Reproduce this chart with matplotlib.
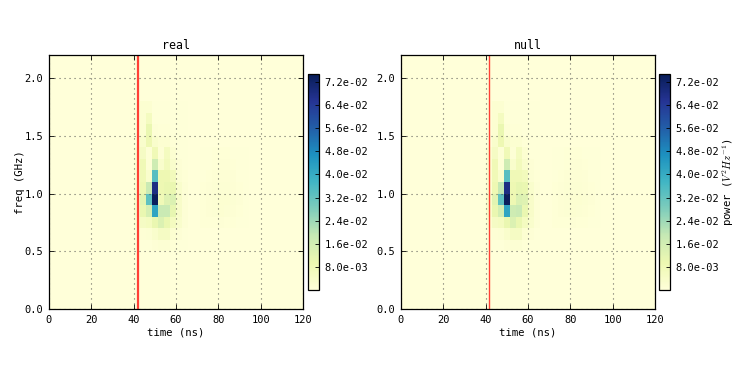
import numpy as np
import matplotlib
matplotlib.use('Agg')
import matplotlib.pyplot as plt

plt.rcParams['font.family'] = ['DejaVu Sans Mono']
plt.rcParams['mathtext.fontset'] = 'cm'

# grid of the spectrogram
time_edges = np.linspace(0, 120, 43)
freq_edges = np.linspace(0, 2.2, 23)
background = 0.25

# power in 1e-3, first row is 0.5-0.6 GHz, columns 14-22 (about 40-66 ns)
core_real = [
    [0.3, 0.5, 0.5, 1.0, 1.5, 1.5, 0.8, 0.5, 0.4],
    [0.5, 1.2, 1.5, 3.0, 5.0, 5.0, 2.0, 1.0, 0.5],
    [2.0, 5.0, 6.0, 10.0, 14.0, 10.0, 6.0, 3.0, 1.0],
    [3.0, 10.0, 15.0, 42.0, 18.0, 18.0, 11.0, 4.0, 1.0],
    [3.0, 12.0, 33.0, 74.0, 8.0, 13.0, 14.0, 4.0, 1.0],
    [2.0, 9.0, 18.0, 68.0, 9.0, 10.0, 10.0, 3.0, 1.0],
    [2.0, 8.0, 3.0, 34.0, 9.0, 9.0, 7.0, 1.5, 0.6],
    [2.0, 8.0, 1.0, 17.0, 3.0, 7.0, 3.0, 1.0, 0.5],
    [2.0, 5.0, 1.0, 8.0, 1.0, 6.0, 2.0, 0.5, 0.3],
    [0.5, 3.0, 9.0, 3.0, 2.0, 2.0, 0.8, 0.3, 0.3],
    [0.3, 2.0, 10.0, 1.0, 0.8, 0.6, 0.3, 0.3, 0.3],
    [0.3, 2.0, 6.0, 0.5, 0.3, 0.3, 0.3, 0.3, 0.3],
    [0.3, 2.0, 2.0, 0.5, 0.3, 0.3, 0.3, 0.3, 0.3],
]
core_null = [
    [0.3, 0.5, 0.5, 1.0, 1.5, 1.5, 0.8, 0.5, 0.4],
    [0.5, 1.2, 1.5, 3.0, 5.0, 5.0, 2.0, 1.0, 0.5],
    [2.0, 5.0, 6.0, 10.0, 14.0, 10.0, 6.0, 3.0, 1.0],
    [3.0, 10.0, 16.0, 42.0, 17.0, 18.0, 10.0, 4.0, 1.0],
    [3.0, 12.0, 33.0, 74.0, 9.0, 14.0, 13.0, 4.0, 1.0],
    [2.0, 9.0, 19.0, 68.0, 9.0, 11.0, 10.0, 3.0, 1.0],
    [2.0, 8.0, 3.0, 34.0, 8.0, 8.0, 7.0, 1.5, 0.6],
    [2.0, 8.0, 1.0, 17.0, 3.0, 7.0, 3.0, 1.0, 0.5],
    [2.0, 5.0, 1.0, 8.0, 1.0, 6.0, 2.0, 0.5, 0.3],
    [0.5, 3.0, 9.0, 3.0, 2.0, 2.0, 0.8, 0.3, 0.3],
    [0.3, 2.0, 10.0, 1.0, 0.8, 0.6, 0.3, 0.3, 0.3],
    [0.3, 2.0, 6.0, 0.5, 0.3, 0.3, 0.3, 0.3, 0.3],
    [0.3, 2.0, 2.0, 0.5, 0.3, 0.3, 0.3, 0.3, 0.3],
]

# faint tail, first row is 0.7-0.8 GHz, columns 25-32 (about 71-94 ns)
tail = [
    [0.6, 0.8, 0.8, 0.9, 0.8, 0.6, 0.4, 0.3],
    [0.8, 1.2, 1.5, 1.8, 1.6, 1.2, 0.8, 0.4],
    [0.8, 1.3, 1.7, 2.0, 1.8, 1.5, 1.0, 0.4],
    [0.6, 1.0, 1.5, 1.6, 1.6, 1.2, 0.8, 0.3],
    [0.4, 0.7, 1.2, 1.2, 1.3, 1.0, 0.5, 0.3],
    [0.3, 0.4, 0.8, 1.0, 1.0, 0.6, 0.3, 0.3],
    [0.3, 0.3, 0.6, 0.8, 0.7, 0.4, 0.3, 0.3],
]

cbar_ticks = [0.008, 0.016, 0.024, 0.032, 0.040, 0.048, 0.056, 0.064, 0.072]
cbar_labels = ['8.0e-03', '1.6e-02', '2.4e-02', '3.2e-02', '4.0e-02',
               '4.8e-02', '5.6e-02', '6.4e-02', '7.2e-02']
xticks = [0, 20, 40, 60, 80, 100, 120]
yticks = [0.0, 0.5, 1.0, 1.5, 2.0]
vmax = 0.0748

W, H = 747.0, 374.0


def px_axes(fig, left, top, right, bottom):
    return fig.add_axes([left / W, 1 - bottom / H, (right - left) / W, (bottom - top) / H])


def make_power(core):
    power = np.full((22, 42), background)
    power[5:18, 14:23] = core
    power[7:14, 25:33] = tail
    return power * 1e-3


fig = plt.figure(figsize=(7.47, 3.74), dpi=100)

panels = [
    ('real', core_real, 49, 42.0, 1.6, 308),
    ('null', core_null, 401, 41.7, 1.0, 659),
]
for title, core, left, tline, lw, cleft in panels:
    ax = px_axes(fig, left, 55, left + 254, 309)
    mesh = ax.pcolormesh(time_edges, freq_edges, make_power(core), cmap='YlGnBu',
                         vmin=0, vmax=vmax, rasterized=True)
    ax.axvline(tline, color='red', lw=lw, alpha=0.75)
    ax.set_xlim(0, 120)
    ax.set_ylim(0, 2.2)
    ax.set_xticks(xticks)
    ax.set_yticks(yticks)
    ax.set_yticklabels(['%.1f' % v for v in yticks])
    ax.grid(True, color='#444444', lw=0.8, alpha=0.8, dashes=(1, 3.5))
    ax.tick_params(direction='in', top=True, right=True, length=3.5, width=0.6,
                   labelsize=7.5, pad=4)
    ax.tick_params(axis='x', pad=4)
    ax.set_title(title, fontsize=8.4, pad=4)
    ax.set_xlabel('time (ns)', fontsize=7.7, labelpad=2)
    if title == 'real':
        ax.set_ylabel('freq (GHz)', fontsize=7.7, labelpad=0)
    for s in ax.spines.values():
        s.set_linewidth(0.9)

    cax = px_axes(fig, cleft, 74, cleft + 11, 290)
    cb = fig.colorbar(mesh, cax=cax)
    cb.set_ticks(cbar_ticks)
    cb.set_ticklabels(cbar_labels)
    cb.ax.tick_params(direction='in', length=3, width=0.6, labelsize=7.5, pad=4)
    cb.outline.set_linewidth(0.9)
    if title == 'null':
        cb.set_label('power ($V^2Hz^{-1}$)', fontsize=7.7, labelpad=1)

fig.savefig('out.png', dpi=100)
